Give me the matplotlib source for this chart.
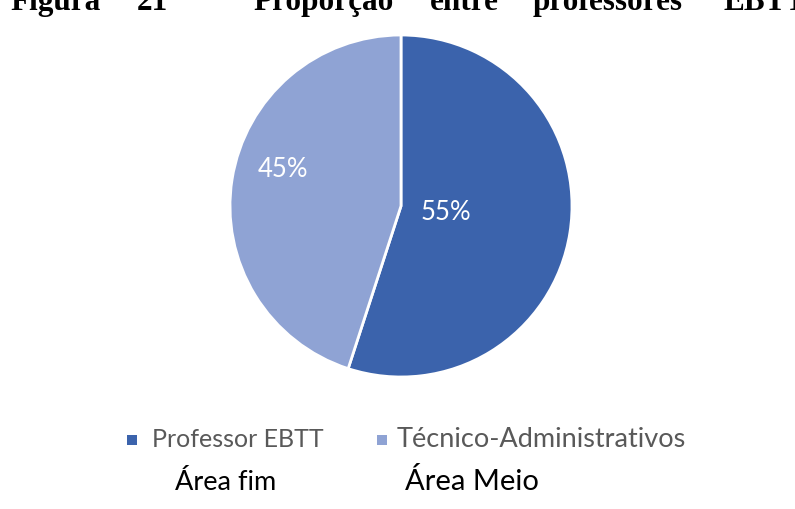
import matplotlib
matplotlib.use("Agg")
import matplotlib.pyplot as plt
from matplotlib.patches import Rectangle

# data
labels = ["Professor EBTT", "Técnico-Administrativos"]
subtitles = ["Área fim", "Área Meio"]
shares = [55, 45]
colors = ["#3B63AC", "#8FA3D4"]
title_words = ["Figura", "21", "Proporção", "entre", "professores", "EBTT"]

W, H = 795, 509
fig = plt.figure(figsize=(W / 100, H / 100), dpi=100)
fig.patch.set_facecolor("white")

# pie axes: centre (401, 206) px, radius 171 px
cx, cy, r = 401, 206, 171
ax = fig.add_axes([(cx - r) / W, (H - cy - r) / H, 2 * r / W, 2 * r / H])
wedges, _ = ax.pie(shares, colors=colors, startangle=90, counterclock=False,
                   radius=1.0, wedgeprops=dict(edgecolor="white", linewidth=2))
ax.set_xlim(-1, 1)
ax.set_ylim(-1, 1)
ax.set_aspect("equal")
ax.axis("off")

# percentage labels (pixel positions)
pct_pos = [(446, 212), (283, 170)]
for s, (px, py) in zip(shares, pct_pos):
    fig.text(px / W, 1 - py / H, f"{s}%", color="white", fontsize=18.5,
             family="Lato", ha="center", va="center")

# title line, cut off at the top edge as in the source page
word_x = [10, 137, 253, 430, 533, 723]
for wd, x in zip(title_words, word_x):
    fig.text(x / W, 1 - 10 / H, wd, fontsize=22.5, family="Liberation Serif",
             fontweight="bold", ha="left", va="baseline")

# legend
sq_x = [127, 377]
txt_x = [152, 397]
sub_x = [175, 405]
leg_size = [18, 19.5]
sub_size = [19.5, 21]
for lab, sub, c, sx, tx, ux, fs, ss in zip(labels, subtitles, colors, sq_x,
                                           txt_x, sub_x, leg_size, sub_size):
    fig.patches.append(Rectangle((sx / W, 1 - 445 / H), 10 / W, 10 / H,
                                 transform=fig.transFigure, facecolor=c,
                                 edgecolor="none"))
    fig.text(tx / W, 1 - 447 / H, lab, fontsize=fs, family="Lato",
             color="#595959", ha="left", va="baseline")
    fig.text(ux / W, 1 - 490 / H, sub, fontsize=ss, family="Lato",
             color="black", ha="left", va="baseline")

fig.savefig("out.png", dpi=100)
